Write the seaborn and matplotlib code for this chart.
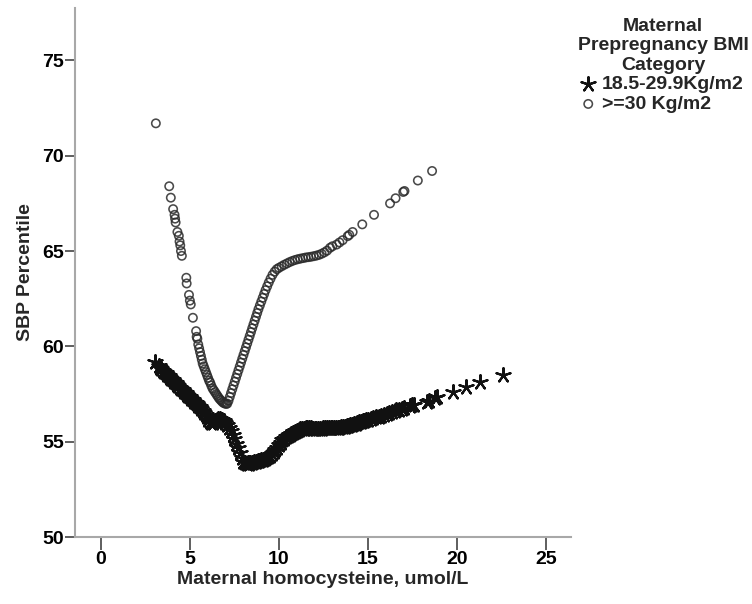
import pandas as pd
import matplotlib
matplotlib.use("Agg")
import matplotlib.pyplot as plt
import seaborn as sns

# BMI 18.5-29.9 group (stars)
star_x = [3.03, 3.25, 3.32, 3.40, 3.48, 3.56, 3.64, 3.72, 3.80, 3.88, 3.96, 4.04, 4.12, 4.20,
          4.28, 4.36, 4.44, 4.52, 4.60, 4.68, 4.76, 4.84, 4.92, 5.00, 5.08, 5.16, 5.24, 5.32,
          5.40, 5.48, 5.56, 5.64, 5.72, 5.80, 5.88, 5.96, 6.04, 6.12, 6.20, 6.30, 6.40, 6.50,
          6.60, 6.70, 6.80, 6.90, 7.00, 7.10, 7.20, 7.30, 7.40, 7.50, 7.60, 7.70, 7.80, 7.90,
          8.00, 8.10, 8.20, 8.30, 8.40, 8.50, 8.60, 8.70, 8.80, 8.90, 9.00, 9.10, 9.20, 9.30,
          9.40, 9.50, 9.60, 9.70, 9.80, 9.90, 10.00, 10.10, 10.20, 10.30, 10.40, 10.50, 10.60,
          10.70, 10.80, 10.90, 11.00, 11.10, 11.20, 11.30, 11.40, 11.50, 11.60, 11.70, 11.80,
          11.90, 12.00, 12.10, 12.20, 12.30, 12.40, 12.50, 12.60, 12.70, 12.80, 12.90, 13.00,
          13.10, 13.20, 13.30, 13.40, 13.50, 13.60, 13.70, 13.80, 13.90, 14.00, 14.10, 14.20,
          14.30, 14.40, 14.50, 14.60, 14.70, 14.80, 14.90, 15.00, 15.15, 15.30, 15.45, 15.60,
          15.75, 15.90, 16.05, 16.20, 16.35, 16.50, 16.60, 16.75, 16.90, 17.05, 17.36, 17.45,
          17.60, 18.30, 18.40, 18.76, 18.86, 19.80, 20.50, 21.30, 22.60]
star_y = [59.20, 58.95, 58.88, 58.80, 58.73, 58.66, 58.58, 58.51, 58.44, 58.36, 58.29, 58.21,
          58.14, 58.07, 57.99, 57.92, 57.84, 57.77, 57.70, 57.62, 57.55, 57.47, 57.40, 57.33,
          57.25, 57.18, 57.10, 57.03, 56.96, 56.88, 56.80, 56.70, 56.60, 56.50, 56.40, 56.28,
          56.15, 56.02, 55.96, 56.00, 56.08, 56.15, 56.20, 56.20, 56.15, 56.08, 55.98, 55.88,
          55.74, 55.55, 55.35, 55.15, 54.90, 54.65, 54.40, 54.15, 53.95, 53.86, 53.84, 53.85,
          53.87, 53.89, 53.91, 53.94, 53.97, 54.00, 54.02, 54.05, 54.09, 54.14, 54.20, 54.27,
          54.35, 54.45, 54.55, 54.68, 54.80, 54.95, 55.07, 55.15, 55.22, 55.28, 55.33, 55.38,
          55.44, 55.50, 55.55, 55.60, 55.64, 55.67, 55.69, 55.70, 55.70, 55.70, 55.70, 55.69,
          55.69, 55.69, 55.69, 55.69, 55.69, 55.70, 55.70, 55.70, 55.70, 55.71, 55.71, 55.72,
          55.72, 55.73, 55.74, 55.75, 55.76, 55.78, 55.80, 55.83, 55.86, 55.89, 55.92, 55.95,
          55.98, 56.01, 56.04, 56.07, 56.10, 56.13, 56.16, 56.20, 56.24, 56.28, 56.32, 56.36,
          56.40, 56.45, 56.50, 56.55, 56.60, 56.64, 56.68, 56.72, 56.77, 56.85, 56.90, 56.95,
          57.10, 57.15, 57.28, 57.32, 57.60, 57.85, 58.15, 58.50]

# BMI >=30 group (circles)
circ_x = [3.09, 3.84, 3.93, 4.06, 4.14, 4.17, 4.20, 4.30, 4.38, 4.42, 4.46, 4.50, 4.55,
          4.80, 4.82, 4.95, 5.00, 5.05, 5.17, 5.35, 5.38, 5.42, 5.47, 5.52, 5.57, 5.62, 5.67,
          5.72, 5.78, 5.84, 5.90, 5.96, 6.02, 6.08, 6.14, 6.20, 6.27, 6.34, 6.41, 6.48, 6.55,
          6.62, 6.69, 6.76, 6.83, 6.90, 6.97, 7.04, 7.10, 7.17, 7.24, 7.31, 7.38, 7.45, 7.52,
          7.59, 7.66, 7.73, 7.80, 7.87, 7.94, 8.01, 8.08, 8.15, 8.22, 8.29, 8.36, 8.43, 8.50,
          8.57, 8.64, 8.71, 8.78, 8.85, 8.93, 9.01, 9.09, 9.17, 9.25, 9.34, 9.43, 9.53, 9.64,
          9.76, 9.88, 10.00, 10.15, 10.30, 10.45, 10.60, 10.75, 10.90, 11.05, 11.20, 11.35,
          11.50, 11.65, 11.80, 11.95, 12.10, 12.25, 12.40, 12.55, 12.70, 12.87, 13.00, 13.24,
          13.40, 13.58, 13.86, 13.95, 14.14, 14.68, 15.34, 16.24, 16.55, 16.98, 17.05, 17.80,
          18.60]
circ_y = [71.70, 68.40, 67.80, 67.20, 66.90, 66.70, 66.50, 66.00, 65.80, 65.50, 65.30, 65.00,
          64.75, 63.60, 63.30, 62.70, 62.40, 62.20, 61.50, 60.80, 60.50, 60.40, 60.10, 59.90,
          59.70, 59.50, 59.30, 59.10, 58.95, 58.80, 58.65, 58.50, 58.35, 58.20, 58.10, 57.95,
          57.80, 57.70, 57.60, 57.50, 57.40, 57.30, 57.22, 57.15, 57.08, 57.03, 57.00, 56.98,
          57.00, 57.15, 57.35, 57.55, 57.75, 57.95, 58.15, 58.35, 58.55, 58.75, 58.95, 59.15,
          59.35, 59.55, 59.75, 59.95, 60.15, 60.35, 60.55, 60.75, 60.95, 61.15, 61.35, 61.55,
          61.75, 61.95, 62.15, 62.35, 62.55, 62.75, 62.95, 63.15, 63.35, 63.55, 63.75, 63.92,
          64.05, 64.12, 64.20, 64.28, 64.35, 64.42, 64.48, 64.53, 64.57, 64.60, 64.63, 64.66,
          64.68, 64.70, 64.73, 64.76, 64.80, 64.86, 64.93, 65.02, 65.17, 65.25, 65.34, 65.45,
          65.57, 65.78, 65.85, 66.00, 66.40, 66.90, 67.50, 67.77, 68.10, 68.15, 68.70, 69.20]

groups = ['18.5-29.9Kg/m2', '>=30 Kg/m2']
x_ticks = [0, 5, 10, 15, 20, 25]
y_ticks = [50, 55, 60, 65, 70, 75]

star_df = pd.DataFrame({'hcy': star_x, 'sbp': star_y})
circ_df = pd.DataFrame({'hcy': circ_x, 'sbp': circ_y})

sns.set_style("white")
plt.rcParams['font.family'] = ['Liberation Sans', 'DejaVu Sans']
plt.rcParams['font.weight'] = 'bold'
plt.rcParams['axes.labelweight'] = 'bold'

fig = plt.figure(figsize=(7.52, 6.04), dpi=100)
ax = fig.add_axes([75 / 752, 67 / 604, 496 / 752, 529 / 604])

sns.scatterplot(data=star_df, x='hcy', y='sbp', ax=ax, marker=(5, 2, 0), s=110,
                color='#111111', linewidth=1.6, label=groups[0])
sns.scatterplot(data=circ_df, x='hcy', y='sbp', ax=ax, marker='o', s=36,
                facecolor='none', edgecolor='#2a2a2a', linewidth=1.15, alpha=0.85,
                label=groups[1])

ax.set_xlim(-1.45, 26.4)
ax.set_ylim(50, 77.75)
ax.set_xticks(x_ticks)
ax.set_yticks(y_ticks)

ax.set_xlabel('Maternal homocysteine, umol/L', fontsize=14, labelpad=2)
ax.set_ylabel('SBP Percentile', fontsize=14, labelpad=6)

for side in ['top', 'right']:
    ax.spines[side].set_visible(False)
for side in ['left', 'bottom']:
    ax.spines[side].set_color('#a8a8a8')
    ax.spines[side].set_linewidth(1.5)

ax.tick_params(axis='both', direction='out', labelsize=14, colors='#333333',
               labelcolor='black', width=1.1, bottom=True, left=True)
ax.tick_params(axis='x', length=9, pad=1)
ax.tick_params(axis='y', length=7, pad=1)

leg = ax.legend(title='Maternal\nPrepregnancy BMI\nCategory', frameon=False,
                loc='upper center', bbox_to_anchor=(663 / 752, 1 - 8 / 604),
                bbox_transform=fig.transFigure, fontsize=14, title_fontsize=14,
                handlelength=0.6, handletextpad=0.4, labelspacing=0.1, borderpad=0)
leg.get_title().set_multialignment('center')
leg.get_title().set_fontweight('bold')

fig.savefig('out.png', dpi=100)
